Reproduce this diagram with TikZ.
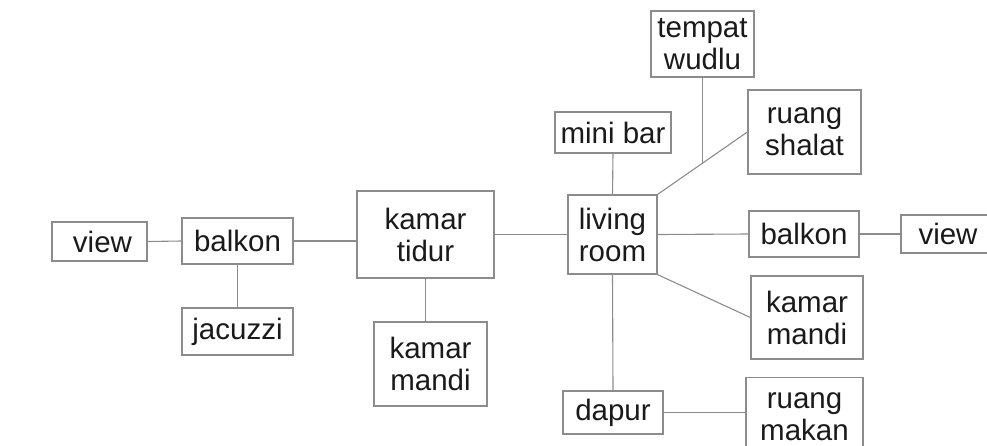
\documentclass[tikz,border=0pt]{standalone}
\usepackage{fontspec}
\setmainfont{Liberation Sans}
\usetikzlibrary{calc}
\definecolor{boxline}{HTML}{8C8C8C}
\definecolor{txt}{HTML}{1A1A1A}
\begin{document}
\begin{tikzpicture}[x=1pt,y=-1pt,
  room/.style={draw=boxline,line width=1.3pt,inner sep=0pt,align=center,
    text=txt,font=\fontsize{29.5}{32}\selectfont},
  link/.style={draw=boxline,line width=1.1pt}]
\useasboundingbox (0,0) rectangle (987,445);
\clip (0,0) rectangle (987,445);
\node[room,minimum width=95pt,minimum height=39pt] (viewL) at (99.5,241.5) {\hspace*{6pt}view};
\node[room,minimum width=111pt,minimum height=46pt] (balkonL) at (237.5,241) {balkon};
\node[room,minimum width=111pt,minimum height=47pt] (jacuzzi) at (237.5,331.5) {jacuzzi};
\node[room,minimum width=137pt,minimum height=87pt] (tidur) at (425.5,234.5) {kamar\\tidur};
\node[room,minimum width=113pt,minimum height=84pt] (mandiL) at (430.5,364) {kamar\\mandi};
\node[room,minimum width=89pt,minimum height=79pt] (living) at (612.5,234.5) {living\\room};
\node[room,minimum width=116pt,minimum height=41pt] (minibar) at (613,132.5) {mini bar};
\node[room,minimum width=103pt,minimum height=66pt] (wudlu) at (702.5,44) {tempat\\wudlu};
\node[room,minimum width=113pt,minimum height=84pt] (shalat) at (804.5,132) {ruang\\shalat};
\node[room,minimum width=110pt,minimum height=46pt] (balkonR) at (804,234) {balkon};
\node[room,minimum width=94pt,minimum height=38pt] (viewR) at (948,234) {view};
\node[room,minimum width=112pt,minimum height=83pt] (mandiR) at (807,317.5) {kamar\\mandi};
\node[room,minimum width=100pt,minimum height=43pt] (dapur) at (613,412.5) {dapur};
\node[room,minimum width=117pt,minimum height=78pt] (makan) at (804.5,416.5) {ruang\\makan};
\coordinate (wjoin) at ($(living.north east)!0.505!(shalat.west)$);
\path[link] (viewL.east) -- (balkonL.west);
\path[link] (balkonL.south) -- (jacuzzi.north);
\path[link] (balkonL.east) -- (balkonL.east -| tidur.west);
\path[link] (tidur.south) -- (tidur.south |- mandiL.north);
\path[link] (tidur.east) -- (living.west);
\path[link] (minibar.south) -- (living.north);
\path[link] (living.north east) -- (shalat.west);
\path[link] (wudlu.south) -- (wudlu.south |- wjoin);
\path[link] (living.east) -- (balkonR.west);
\path[link] (balkonR.east) -- (viewR.west);
\path[link] (living.south east) -- (mandiR.west);
\path[link] (living.south) -- (dapur.north);
\path[link] (dapur.east) -- (dapur.east -| makan.west);
\end{tikzpicture}
\end{document}
